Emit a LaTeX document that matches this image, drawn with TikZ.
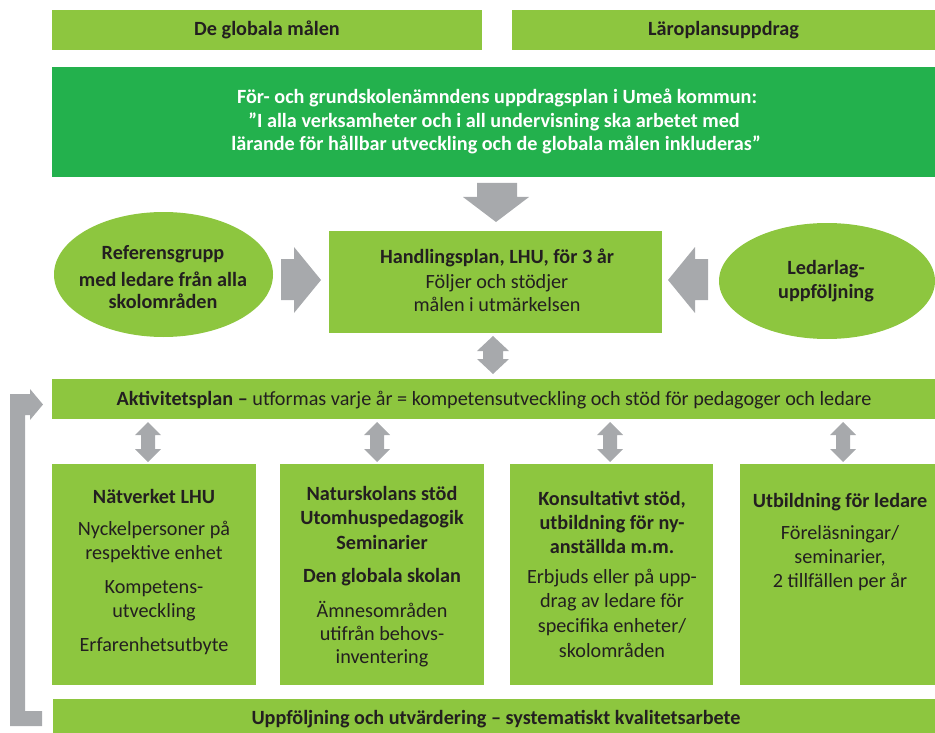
\documentclass[tikz,border=0pt]{standalone}
\usepackage{fontspec}
\setmainfont{Carlito}
\usetikzlibrary{shapes.geometric}
\definecolor{lg}{HTML}{8DC63F}
\definecolor{dg}{HTML}{23B14D}
\definecolor{ag}{HTML}{A7A9AC}
\definecolor{tx}{HTML}{231F20}
\begin{document}
\begin{tikzpicture}[x=1pt,y=-1pt,
  box/.style={fill=lg,draw=none,anchor=north west,inner sep=0,outer sep=0},
  dbox/.style={box,fill=dg},
  oval/.style={ellipse,fill=lg,draw=none,inner sep=0},
  t/.style={font=\fontsize{20.2}{24}\selectfont,text=tx,anchor=base,inner sep=0},
  tb/.style={t,font=\fontsize{20.2}{24}\selectfont\bfseries},
  tw/.style={tb,text=white},
  arr/.style={fill=ag,draw=none}]
\useasboundingbox (0,0) rectangle (935,733);
% top boxes
\node[box,minimum width=430pt,minimum height=40pt] (gm) at (52,10) {};
\node[box,minimum width=423pt,minimum height=40pt] (lp) at (512,10) {};
\node[tb] (gmt) at (267,36) {De globala målen};
\node[tb] (lpt) at (723.5,36) {Läroplansuppdrag};
% dark green box
\node[dbox,minimum width=883pt,minimum height=110pt] (up) at (52,67) {};
\node[tw] (up1) at (497,104) {För- och grundskolenämndens uppdragsplan i Umeå kommun:};
\node[tw] (up2) at (494,128) {”I alla verksamheter och i all undervisning ska arbetet med};
\node[tw] (up3) at (496,151) {lärande för hållbar utveckling och de globala målen inkluderas”};
% down arrow
\fill[arr] (477,183) -- (517,183) -- (517,197) -- (529,197) -- (496,222) -- (463,197) -- (477,197) -- cycle;
% handlingsplan
\node[box,minimum width=333pt,minimum height=102pt] (hp) at (329,231) {};
\node[tb] (hp1) at (497,263) {Handlingsplan, LHU, för 3 år};
\node[t] (hp2) at (497,288) {Följer och stödjer};
\node[t] (hp3) at (497,311) {målen i utmärkelsen};
% ellipses
\node[oval,minimum width=219pt,minimum height=125pt] (ref) at (163.5,274.5) {};
\node[tb] (ref1) at (163,259) {Referensgrupp};
\node[tb] (ref2) at (163,286) {med ledare från alla};
\node[tb] (ref3) at (163,308) {skolområden};
\node[oval,minimum width=216pt,minimum height=116pt] (ll) at (827,281) {};
\node[tb] (ll1) at (826,274) {Ledarlag-};
\node[tb] (ll2) at (826,298) {uppföljning};
% side arrows
\fill[arr] (281,259) -- (294,259) -- (294,247) -- (321,280) -- (294,313) -- (294,300) -- (281,300) -- cycle;
\fill[arr] (708,259) -- (695,259) -- (695,247) -- (668,280) -- (695,313) -- (695,300) -- (708,300) -- cycle;
% double arrow hp <-> akt
\fill[arr] (493,336) -- (509,351) -- (503,351) -- (503,359) -- (509,359) -- (493,374) -- (477,359) -- (483,359) -- (483,351) -- (477,351) -- cycle;
% aktivitetsplan bar
\node[box,minimum width=883pt,minimum height=40pt] (akt) at (52,379) {};
\node[t] (aktt) at (494,405) {\textbf{Aktivitetsplan –} utformas varje år = kompetensutveckling och stöd för pedagoger och ledare};
% lower double arrows
\foreach \cx in {148,377,610,843}
  \fill[arr] (\cx,422) -- ({\cx+13},435) -- ({\cx+7},435) -- ({\cx+7},449) -- ({\cx+13},449) -- (\cx,462) -- ({\cx-13},449) -- ({\cx-7},449) -- ({\cx-7},435) -- ({\cx-13},435) -- cycle;
% bottom boxes
\node[box,minimum width=204pt,minimum height=221pt] (b1) at (52,464) {};
\node[box,minimum width=204pt,minimum height=221pt] (b2) at (280,464) {};
\node[box,minimum width=203pt,minimum height=221pt] (b3) at (510,464) {};
\node[box,minimum width=195pt,minimum height=221pt] (b4) at (740,464) {};
% box 1
\node[tb] (b1a) at (154,503) {Nätverket LHU};
\node[t] (b1b) at (154,535) {Nyckelpersoner på};
\node[t] (b1c) at (154,559) {respektive enhet};
\node[t] (b1d) at (154,593) {Kompetens-};
\node[t] (b1e) at (154,617) {utveckling};
\node[t] (b1f) at (154,651) {Erfarenhetsutbyte};
% box 2
\node[tb] (b2a) at (382,500) {Naturskolans stöd};
\node[tb] (b2b) at (382,524) {Utomhuspedagogik};
\node[tb] (b2c) at (382,549) {Seminarier};
\node[tb] (b2d) at (382,582) {Den globala skolan};
\node[t] (b2e) at (382,617) {Ämnesområden};
\node[t] (b2f) at (382,640) {utifrån behovs-};
\node[t] (b2g) at (382,663) {inventering};
% box 3
\node[tb] (b3a) at (612,505) {Konsultativt stöd,};
\node[tb] (b3b) at (612,529) {utbildning för ny-};
\node[tb] (b3c) at (612,553) {anställda m.m.};
\node[t] (b3d) at (612,583) {Erbjuds eller på upp-};
\node[t] (b3e) at (612,607) {drag av ledare för};
\node[t] (b3f) at (612,632) {specifika enheter/};
\node[t] (b3g) at (612,657) {skolområden};
% box 4
\node[tb] (b4a) at (840,507) {Utbildning för ledare};
\node[t] (b4b) at (840,539) {Föreläsningar/};
\node[t] (b4c) at (840,563) {seminarier,};
\node[t] (b4d) at (840,587) {2 tillfällen per år};
% bottom bar
\node[box,minimum width=882pt,minimum height=34pt] (uf) at (53,699) {};
\node[tb] (uft) at (496,724) {Uppföljning och utvärdering – systematiskt kvalitetsarbete};
% feedback arrow
\fill[arr] (10,726) -- (10,394) -- (30,394) -- (30,389) -- (43,404.5) -- (30,420) -- (30,415) -- (25,415) -- (25,711) -- (42,711) -- (42,726) -- cycle;
\end{tikzpicture}
\end{document}
